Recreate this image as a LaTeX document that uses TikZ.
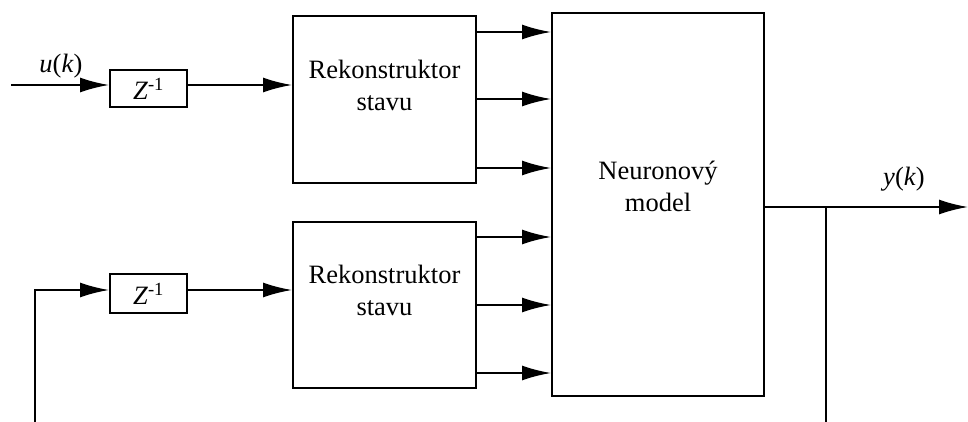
\documentclass[tikz,border=0pt]{standalone}
\usepackage{fontspec}
\setmainfont{Liberation Serif}
\usetikzlibrary{arrows.meta}

\begin{document}
\begin{tikzpicture}[x=1pt, y=-1pt,
		blok/.style={draw, line width=2pt, inner sep=0pt},
		vodic/.style={line width=2pt},
		sipka/.style={line width=2pt, -{Latex[length=29pt, width=15pt]}},
		popis/.style={font=\fontsize{26.5}{32}\selectfont, align=center, inner sep=0pt}]
		
		\useasboundingbox (0,0) rectangle (968,422);
		
		% Define the delay blocks
		\node[blok, popis, minimum width=77pt, minimum height=37pt] (zA) at (148.5,88.5) {\textit{Z}\textsuperscript{-1}};
		\node[blok, popis, minimum width=77pt, minimum height=39pt] (zB) at (148.5,293.5) {\textit{Z}\textsuperscript{-1}};
		
		% Define the state reconstructors
		\node[blok, minimum width=183pt, minimum height=167pt] (rekA) at (384.5,99.5) {};
		\node[popis] (rekAtxt) at (384.5,85) {Rekonstruktor\\stavu};
		\node[blok, minimum width=183pt, minimum height=166pt] (rekB) at (384.5,305) {};
		\node[popis] (rekBtxt) at (384.5,290) {Rekonstruktor\\stavu};
		
		% Define the neural model
		\node[blok, minimum width=212pt, minimum height=383pt] (nm) at (658,204.5) {};
		\node[popis] (nmtxt) at (658,186) {Neuronový\\model};
		
		% Input and feedback
		\coordinate (uin) at (11,85);
		\coordinate (fb) at (35,422);
		\coordinate (fbr) at (35,290);
		\draw[sipka] (uin) -- (zA.west |- uin);
		\draw[sipka] (zA.east |- uin) -- (rekA.west |- uin);
		\draw[sipka] (fb) -- (fbr) -- (zB.west |- fbr);
		\draw[sipka] (zB.east |- fbr) -- (rekB.west |- fbr);
		\node[popis] (ulab) at (61,66) {\textit{u}(\textit{k})};
		
		% Reconstructed states into the model
		\foreach \y in {32, 99, 168} {
			\draw[sipka] (rekA.east |- 0,\y) -- (nm.west |- 0,\y);
		}
		\foreach \y in {237, 305, 373} {
			\draw[sipka] (rekB.east |- 0,\y) -- (nm.west |- 0,\y);
		}
		
		% Output with the branch going down
		\coordinate (yout) at (968,207);
		\coordinate (odb) at (826,207);
		\coordinate (odbk) at (826,422);
		\draw[sipka] (nm.east |- yout) -- (yout);
		\draw[vodic] (odb) -- (odbk);
		\node[popis] (ylab) at (904,179) {\textit{y}(\textit{k})};
		
	\end{tikzpicture}
\end{document}
